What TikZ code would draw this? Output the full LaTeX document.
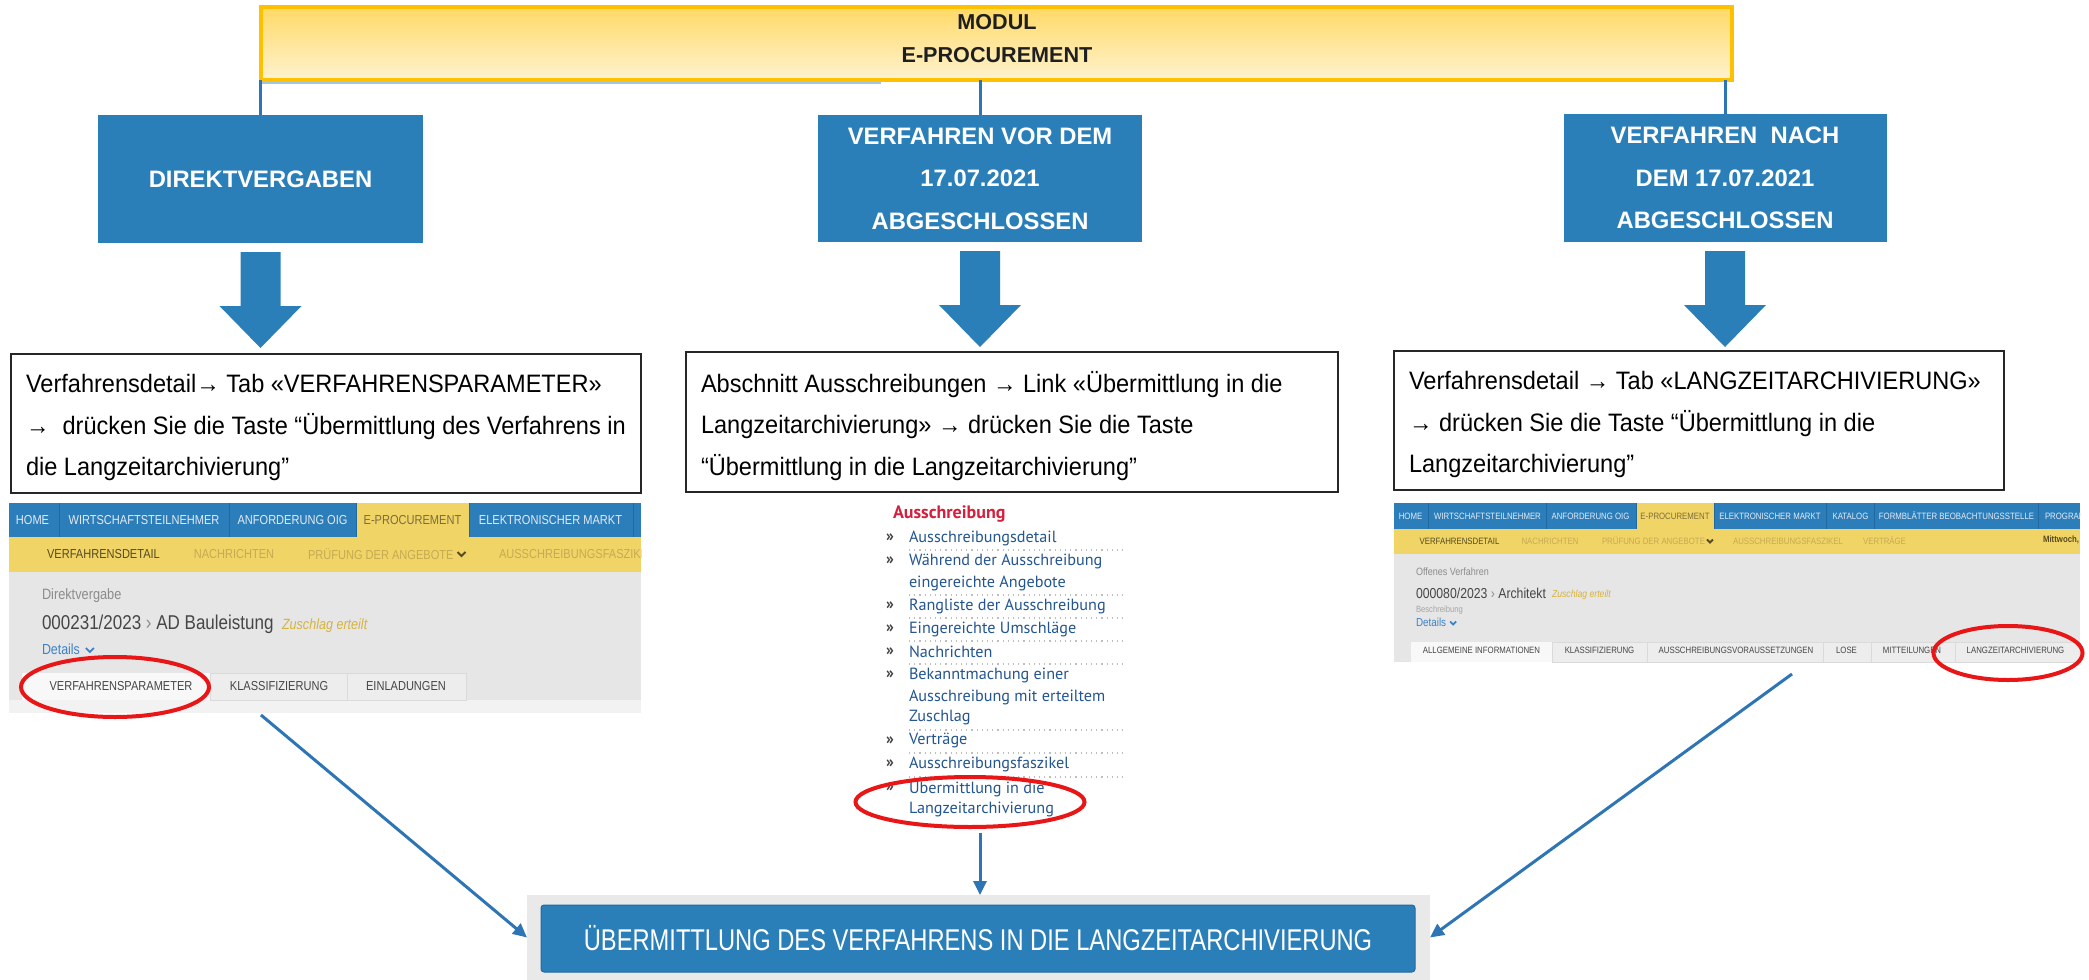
\documentclass[tikz,border=0pt]{standalone}
\usepackage{fontspec}
\setmainfont{Liberation Sans}
\newfontfamily\boxfont[FakeStretch=0.935]{Liberation Sans}
\newfontfamily\btnfont[FakeStretch=0.79]{Liberation Sans}
\newfontfamily\uifont[FakeStretch=0.85]{Liberation Sans}
\newfontfamily\linkfont{PT Sans}
\usetikzlibrary{shapes.geometric,arrows.meta,calc}
\definecolor{boxblue}{RGB}{43,127,185}
\definecolor{connblue}{RGB}{46,117,182}
\definecolor{faintblue}{RGB}{160,198,228}
\definecolor{modgold}{RGB}{255,192,0}
\definecolor{modtop}{RGB}{255,217,102}
\definecolor{modbot}{RGB}{255,243,208}
\definecolor{navblue}{RGB}{44,126,186}
\definecolor{navsep}{RGB}{32,104,160}
\definecolor{navyel}{RGB}{240,212,102}
\definecolor{uigray}{RGB}{230,230,230}
\definecolor{uistrip}{RGB}{242,242,242}
\definecolor{tabw}{RGB}{248,248,248}
\definecolor{tabg}{RGB}{237,237,237}
\definecolor{tabline}{RGB}{218,218,218}
\definecolor{navtxt}{RGB}{226,235,245}
\definecolor{dimtxt}{RGB}{198,170,82}
\definecolor{darkolive}{RGB}{88,74,30}
\definecolor{epro}{RGB}{125,108,62}
\definecolor{grtxt}{RGB}{140,140,140}
\definecolor{ltgrtxt}{RGB}{165,165,165}
\definecolor{dktxt}{RGB}{70,70,70}
\definecolor{goldtxt}{RGB}{215,178,60}
\definecolor{detblue}{RGB}{60,130,200}
\definecolor{linkblue}{RGB}{35,85,145}
\definecolor{linkred}{RGB}{212,32,60}
\definecolor{ellred}{RGB}{232,22,22}
\definecolor{sepdot}{RGB}{190,190,190}
\definecolor{btnbgc}{RGB}{233,233,233}
\definecolor{btnedge}{RGB}{35,105,160}
\newcommand\blockarr[1]{%
  \fill[boxblue] ($(#1.south)+(-20,9)$) -- ($(#1.south)+(20,9)$) -- ($(#1.south)+(20,63)$)
    -- ($(#1.south)+(41,63)$) -- ($(#1.south)+(0,105)$) -- ($(#1.south)+(-41,63)$)
    -- ($(#1.south)+(-20,63)$) -- cycle;}
\newcommand\chev[3]{\draw[#1, line width=0.9pt] ($(#2)+(-#3,-#3*0.5)$) -- ($(#2)+(0,#3*0.5)$) -- ($(#2)+(#3,-#3*0.5)$);}
\begin{document}
\begin{tikzpicture}[x=0.5pt,y=-0.5pt,
  every node/.style={inner sep=0pt,outer sep=0pt},
  bluebox/.style={fill=boxblue, text=white, font=\bfseries\fontsize{11.9}{21.25}\selectfont, align=center},
  framebox/.style={draw=black!85, line width=1pt, fill=white, anchor=north west},
  boxtext/.style={font=\boxfont\fontsize{12.6}{20.75}\selectfont, align=left, anchor=west},
  conn0/.style={draw=connblue, line width=1.5pt},
  conn/.style={draw=connblue, line width=1.5pt, -{Triangle[length=7pt,width=6.5pt]}},
  navt/.style={font=\uifont\fontsize{6.5}{7}\selectfont, text=navtxt},
  navs/.style={font=\uifont\fontsize{4.6}{5}\selectfont, text=navtxt},
  lnk/.style={font=\linkfont\fontsize{8.1}{9}\selectfont, text=linkblue, anchor=west},
  bul/.style={font=\linkfont\bfseries\fontsize{8}{9}\selectfont, text=black!75, anchor=west},
  redell/.style={ellipse, draw=ellred, line width=2pt}]
\useasboundingbox (0,0) rectangle (2089,980);
\fill[white] (0,0) rectangle (2089,980);

% ---------- module ----------
\node[draw=modgold, line width=2pt, top color=modtop, bottom color=modbot,
      minimum width=735.5pt, minimum height=36.5pt] (mod) at (996.5,43.5) {};
\node[font=\bfseries\fontsize{10.8}{16.5}\selectfont, text=black!88, align=center] (modlabel) at (997,38.5) {MODUL\\E-PROCUREMENT};
\draw[faintblue, line width=1pt] ($(mod.south west)+(0,3)$) -- ($(mod.south west)+(620,3)$);

% ---------- blue boxes ----------
\node[bluebox, minimum width=162.5pt, minimum height=64pt] (b1) at (260.5,179) {DIREKTVERGABEN};
\node[bluebox, minimum width=162pt, minimum height=63.5pt] (b2) at (980,178.5) {VERFAHREN VOR DEM\\17.07.2021\\ABGESCHLOSSEN};
\node[bluebox, minimum width=161.5pt, minimum height=64pt] (b3) at (1725,178) {VERFAHREN\ \ NACH\\DEM 17.07.2021\\ABGESCHLOSSEN};

\draw[conn0] (mod.south -| b1.north) -- (b1.north);
\draw[conn0] (mod.south -| b2.north) -- (b2.north);
\draw[conn0] (mod.south -| b3.north) -- (b3.north);

\blockarr{b1}
\blockarr{b2}
\blockarr{b3}

% ---------- text boxes ----------
\node[framebox, minimum width=315pt, minimum height=69.5pt] (t1) at (11,354) {};
\node[boxtext] (t1x) at ($(t1.west)+(15,4)$) {Verfahrensdetail→ Tab «VERFAHRENSPARAMETER»\\→\ \ drücken Sie die Taste “Übermittlung des Verfahrens in\\die Langzeitarchivierung”};
\node[framebox, minimum width=326pt, minimum height=70pt] (t2) at (686,352) {};
\node[boxtext] (t2x) at ($(t2.west)+(15,4)$) {Abschnitt Ausschreibungen → Link «Übermittlung in die\\Langzeitarchivierung» → drücken Sie die Taste\\“Übermittlung in die Langzeitarchivierung”};
\node[framebox, minimum width=305pt, minimum height=69.5pt] (t3) at (1394,351) {};
\node[boxtext] (t3x) at ($(t3.west)+(15,4)$) {Verfahrensdetail → Tab «LANGZEITARCHIVIERUNG»\\→ drücken Sie die Taste “Übermittlung in die\\Langzeitarchivierung”};

% ---------- left screenshot ----------
\begin{scope}
\clip (9,503) rectangle (641,713);
\fill[navblue] (9,503) rectangle (641,537);
\fill[navyel] (356,503) rectangle (469,537);
\foreach \x in {59,229,356,469,633} \draw[navsep, line width=0.5pt] (\x,503) -- (\x,537);
\fill[navyel] (9,537) rectangle (641,572);
\fill[uigray] (9,572) rectangle (641,700);
\fill[uistrip] (9,700) rectangle (641,713);
\fill[tabw] (22,673) rectangle (210,700);
\filldraw[fill=tabg, draw=tabline, line width=0.5pt] (210,673) rectangle (347,700);
\filldraw[fill=tabg, draw=tabline, line width=0.5pt] (347,673) rectangle (466,700);
\node[navt] (s1h) at (32.5,520) {HOME};
\node[navt] (s1w) at (144,520) {WIRTSCHAFTSTEILNEHMER};
\node[navt] (s1a) at (292.5,520) {ANFORDERUNG OIG};
\node[navt, text=epro] (s1e) at (412.5,520) {E-PROCUREMENT};
\node[navt] (s1m) at (550.5,520) {ELEKTRONISCHER MARKT};
\node[navt, text=darkolive] (s1v) at (103.5,554) {VERFAHRENSDETAIL};
\node[navt, text=dimtxt] (s1n) at (234,554) {NACHRICHTEN};
\node[navt, text=dimtxt, anchor=west] (s1p) at (308,554) {PRÜFUNG DER ANGEBOTE};
\node[navt, text=dimtxt, anchor=west] (s1f) at (499,554) {AUSSCHREIBUNGSFASZIKEL};
\node[anchor=west, font=\uifont\fontsize{7.5}{8}\selectfont, text=grtxt] (s1d) at (42,596) {Direktvergabe};
\node[anchor=west, font=\uifont\fontsize{10}{11}\selectfont, text=dktxt] (s1no) at (42,624) {000231/2023 \textcolor{grtxt}{›} AD Bauleistung};
\node[anchor=west, font=\uifont\itshape\fontsize{7.4}{8}\selectfont, text=goldtxt] (s1z) at (282,626) {Zuschlag erteilt};
\node[anchor=west, font=\uifont\fontsize{7.3}{8}\selectfont, text=detblue] (s1det) at (42,649) {Details};
\node[navt, text=dktxt] (s1t1) at (121,686) {VERFAHRENSPARAMETER};
\node[navt, text=dktxt] (s1t2) at (279,686) {KLASSIFIZIERUNG};
\node[navt, text=dktxt] (s1t3) at (406,686) {EINLADUNGEN};
\end{scope}
\chev{darkolive}{$(s1p.east)+(8,0)$}{4}
\chev{detblue}{$(s1det.east)+(10,1)$}{4}
\node[redell, minimum width=94pt, minimum height=30pt] (e1) at (115,687) {};

% ---------- middle link list ----------
\node[anchor=west, font=\linkfont\bfseries\fontsize{9}{10}\selectfont, text=linkred] (lh) at (893,514) {Ausschreibung};
\foreach \y in {538,561,606,629,652,675,741,764,788} \node[bul] at (886,\y) {»};
\node[lnk] (l1) at (909,538) {Ausschreibungsdetail};
\node[lnk] (l2) at (909,561) {Während der Ausschreibung};
\node[lnk] (l2b) at (909,583) {eingereichte Angebote};
\node[lnk] (l3) at (909,606) {Rangliste der Ausschreibung};
\node[lnk] (l4) at (909,629) {Eingereichte Umschläge};
\node[lnk] (l5) at (909,652) {Nachrichten};
\node[lnk] (l6) at (909,675) {Bekanntmachung einer};
\node[lnk] (l6b) at (909,697) {Ausschreibung mit erteiltem};
\node[lnk] (l6c) at (909,718) {Zuschlag};
\node[lnk] (l7) at (909,741) {Verträge};
\node[lnk] (l8) at (909,764) {Ausschreibungsfaszikel};
\node[lnk] (l9) at (909,788) {Übermittlung in die};
\node[lnk] (l9b) at (909,809) {Langzeitarchivierung};
\foreach \y in {550,595,618,641,664,730,753,777} \draw[sepdot, dotted, line width=0.6pt] (909,\y) -- (1126,\y);
\node[redell, minimum width=114.5pt, minimum height=25pt] (e2) at (970,802) {};

% ---------- right screenshot ----------
\begin{scope}
\clip (1394,503) rectangle (2080,662);
\fill[navblue] (1394,503) rectangle (2080,529);
\fill[navyel] (1636,503) rectangle (1714,529);
\foreach \x in {1428,1546,1636,1714,1826,1874,2038} \draw[navsep, line width=0.5pt] (\x,503) -- (\x,529);
\fill[navyel] (1394,529) rectangle (2080,554);
\fill[uigray] (1394,554) rectangle (2080,662);
\fill[tabw] (1411,642) rectangle (1552,662);
\foreach \a/\b in {1552/1647,1647/1823,1823/1871,1871/1955,1955/2080}
  \filldraw[fill=tabg, draw=tabline, line width=0.5pt] (\a,642) rectangle (\b,662);
\node[navs] (s3h) at (1410.5,516) {HOME};
\node[navs] (s3w) at (1487.5,516) {WIRTSCHAFTSTEILNEHMER};
\node[navs] (s3a) at (1590.5,516) {ANFORDERUNG OIG};
\node[navs, text=epro] (s3e) at (1675,516) {E-PROCUREMENT};
\node[navs] (s3m) at (1770,516) {ELEKTRONISCHER MARKT};
\node[navs] (s3k) at (1850.5,516) {KATALOG};
\node[navs] (s3f) at (1956.5,516) {FORMBLÄTTER BEOBACHTUNGSSTELLE};
\node[navs, anchor=west] (s3g) at (2045,516) {PROGRAMM};
\node[navs, text=darkolive] (s3v) at (1459.5,541) {VERFAHRENSDETAIL};
\node[navs, text=dimtxt] (s3n) at (1550,541) {NACHRICHTEN};
\node[navs, text=dimtxt, anchor=west] (s3p) at (1602,541) {PRÜFUNG DER ANGEBOTE};
\node[navs, text=dimtxt] (s3az) at (1788,541) {AUSSCHREIBUNGSFASZIKEL};
\node[navs, text=dimtxt] (s3vt) at (1884.5,541) {VERTRÄGE};
\node[navs, text=darkolive, anchor=west] (s3mi) at (2043,540) {\bfseries Mittwoch,};
\node[anchor=west, font=\uifont\fontsize{5.3}{6}\selectfont, text=grtxt] (s3o) at (1416,572) {Offenes Verfahren};
\node[anchor=west, font=\uifont\fontsize{7.2}{8}\selectfont, text=dktxt] (s3no) at (1416,593) {000080/2023 \textcolor{grtxt}{›} Architekt};
\node[anchor=west, font=\uifont\itshape\fontsize{5.1}{6}\selectfont, text=goldtxt] (s3z) at (1552,595) {Zuschlag erteilt};
\node[anchor=west, font=\uifont\fontsize{4.5}{5}\selectfont, text=ltgrtxt] (s3b) at (1416,610) {Beschreibung};
\node[anchor=west, font=\uifont\fontsize{5.8}{6}\selectfont, text=detblue] (s3det) at (1416,622) {Details};
\node[navs, text=dktxt] (s3t1) at (1481.5,650) {ALLGEMEINE INFORMATIONEN};
\node[navs, text=dktxt] (s3t2) at (1599.5,650) {KLASSIFIZIERUNG};
\node[navs, text=dktxt] (s3t3) at (1736,650) {AUSSCHREIBUNGSVORAUSSETZUNGEN};
\node[navs, text=dktxt] (s3t4) at (1846.5,650) {LOSE};
\node[navs, text=dktxt] (s3t5) at (1912,650) {MITTEILUNGEN};
\node[navs, text=dktxt] (s3t6) at (2015.5,650) {LANGZEITARCHIVIERUNG};
\end{scope}
\chev{darkolive}{$(s3p.east)+(5,0)$}{3}
\chev{detblue}{$(s3det.east)+(7,1)$}{3}
\node[redell, minimum width=74.5pt, minimum height=27pt] (e3) at (2008,653) {};

% ---------- bottom button ----------
\node[fill=btnbgc, minimum width=451.5pt, minimum height=42.5pt] (bg) at (978.5,937.5) {};
\node[fill=boxblue, draw=btnedge, line width=0.5pt, rounded corners=1.5pt, minimum width=437pt, minimum height=33.5pt,
      text=white, font=\btnfont\fontsize{15}{16}\selectfont] (btn) at (978,938.5) {ÜBERMITTLUNG DES VERFAHRENS IN DIE LANGZEITARCHIVIERUNG};

% ---------- arrows ----------
\coordinate (a1) at (261,715);
\coordinate (a2) at (980,833);
\coordinate (a3) at (1792,674);
\draw[conn] (a1) -- (bg.west);
\draw[conn] (a2) -- (a2 |- bg.north);
\draw[conn] (a3) -- (bg.east);
\end{tikzpicture}
\end{document}
